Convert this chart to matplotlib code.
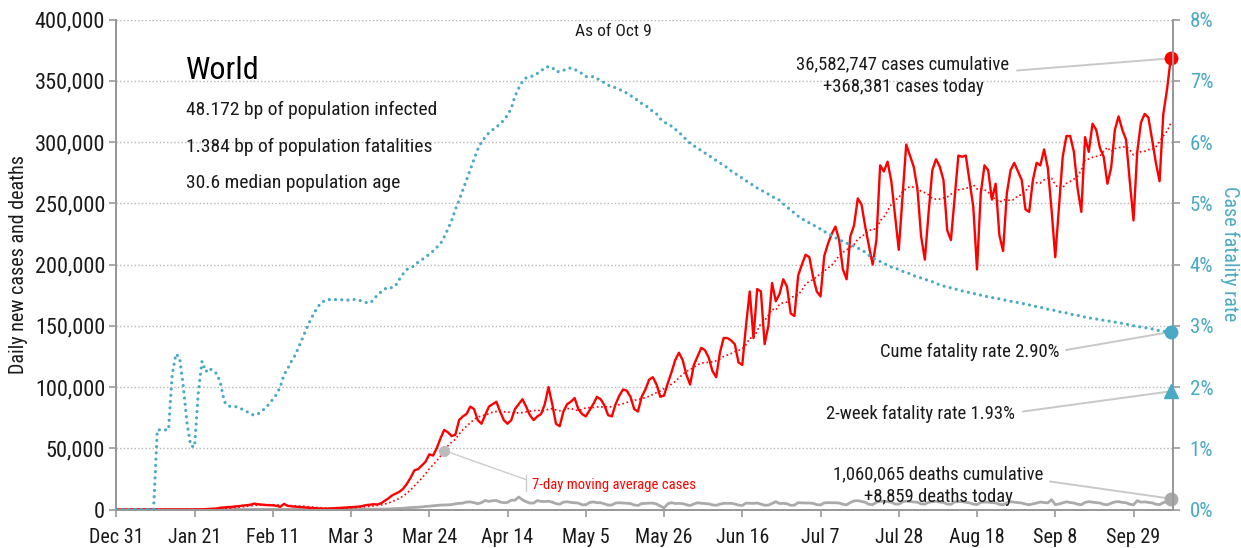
import numpy as np
import pandas as pd
import matplotlib
matplotlib.use("Agg")
import matplotlib.pyplot as plt
import matplotlib.font_manager as fm

# ---------------- data (day 0 = Dec 31, last day = Oct 9) ----------------
cases_k = [
    0, 0, 0, 0, 0, 0, 0,
    0, 0, 0, 0, 0, 0, 0,
    0, 0, 0, 0, 0, 0, 0,
    0, 0.1, 0.1, 0.3, 0.5, 0.7, 0.8,
    1.5, 1.7, 2.0, 2.1, 2.6, 2.8, 3.2,
    3.5, 3.9, 4.8, 4.3, 4.0, 3.7, 3.5,
    3.4, 3.0, 2.2, 4.6, 3.0, 2.6, 2.3,
    2.1, 1.9, 1.6, 1.3, 1.1, 0.9, 0.8,
    0.7, 0.8, 1.0, 1.2, 1.3, 1.5, 1.7,
    1.9, 2.1, 2.4, 2.8, 3.6, 3.9, 4.3,
    4.1, 5.0, 7.0, 9.0, 11.5, 13.0, 14.5,
    17, 21, 26, 32, 33, 36, 39,
    45, 44, 50, 58, 65, 63, 60,
    61, 73, 76, 78, 84, 82, 73,
    70, 77, 84, 86, 88, 80, 73,
    70, 73, 82, 86, 90, 84, 77,
    73, 76, 78, 86, 100, 86, 70,
    68, 80, 86, 88, 91, 82, 78,
    76, 81, 86, 92, 90, 85, 77,
    76, 86, 93, 98, 97, 92, 82,
    80, 92, 98, 106, 108, 102, 92,
    93, 103, 112, 122, 128, 122, 110,
    102, 118, 125, 132, 130, 124, 113,
    108, 128, 140, 140, 138, 135, 120,
    118, 150, 178, 140, 180, 178, 135,
    150, 185, 170, 176, 188, 182, 160,
    158, 191, 200, 208, 206, 190, 178,
    174, 207, 217, 225, 231, 220, 196,
    188, 223, 232, 254, 249, 231, 215,
    200, 220, 281, 276, 284, 268, 240,
    212, 255, 298, 289, 280, 262, 223,
    204, 242, 277, 286, 280, 269, 228,
    220, 255, 289, 288, 289, 268, 247,
    196, 258, 281, 277, 253, 266, 224,
    211, 258, 277, 283, 276, 269, 245,
    243, 269, 283, 281, 294, 279, 245,
    206, 247, 288, 305, 305, 292, 262,
    243, 304, 292, 315, 310, 295, 288,
    266, 279, 310, 321, 310, 302, 268,
    236, 292, 316, 323, 320, 302, 283,
    268, 323, 343, 368.381,
]

deaths_k = [
    0, 0, 0, 0, 0, 0, 0,
    0, 0, 0, 0, 0, 0, 0,
    0, 0, 0, 0, 0, 0, 0,
    0, 0.02, 0.01, 0.01, 0.02, 0.02, 0.03,
    0.03, 0.04, 0.04, 0.05, 0.06, 0.06, 0.07,
    0.07, 0.07, 0.07, 0.09, 0.09, 0.1, 0.1,
    0.1, 0.12, 0.12, 0.25, 0.14, 0.14, 0.1,
    0.12, 0.11, 0.1, 0.1, 0.1, 0.15, 0.08,
    0.05, 0.04, 0.05, 0.06, 0.05, 0.06, 0.07,
    0.1, 0.1, 0.1, 0.1, 0.2, 0.2, 0.3,
    0.3, 0.4, 0.4, 0.5, 0.6, 0.8, 0.9,
    1.0, 1.3, 1.6, 1.7, 1.9, 2.1, 2.5,
    2.7, 3.0, 3.3, 3.6, 3.7, 3.8, 4.0,
    4.6, 5.0, 5.2, 6.1, 6.2, 5.6, 4.7,
    5.6, 7.4, 6.6, 7.2, 7.3, 6.1, 5.5,
    5.8, 7.6, 7.6, 10.2, 7.9, 6.4, 5.2,
    5.3, 7.3, 6.6, 6.5, 6.8, 6.0, 4.8,
    4.3, 6.0, 6.3, 5.8, 5.5, 5.2, 3.9,
    3.8, 5.6, 6.2, 5.6, 5.5, 4.6, 3.6,
    3.7, 5.3, 5.5, 5.3, 5.1, 4.8, 3.7,
    3.3, 4.8, 5.0, 5.2, 5.2, 4.5, 2.8,
    1.3, 4.6, 5.6, 4.9, 5.0, 4.8, 3.9,
    3.2, 4.5, 5.5, 5.1, 4.9, 4.6, 3.8,
    3.4, 4.4, 5.0, 5.0, 5.1, 4.5, 3.6,
    3.3, 5.2, 5.1, 5.0, 5.3, 4.4, 3.5,
    3.6, 4.9, 6.4, 4.9, 5.0, 4.7, 3.4,
    3.6, 5.6, 5.4, 5.3, 5.3, 5.0, 4.0,
    3.7, 5.4, 5.6, 5.5, 5.5, 5.3, 4.3,
    3.8, 5.7, 7.0, 7.2, 6.6, 5.9, 4.2,
    4.0, 5.9, 6.6, 6.8, 6.4, 6.0, 4.5,
    4.3, 6.1, 6.9, 6.6, 6.2, 5.9, 4.6,
    4.4, 5.9, 6.4, 6.6, 6.1, 5.8, 4.4,
    4.2, 6.2, 6.4, 6.5, 5.9, 5.4, 4.4,
    4.0, 5.8, 6.1, 6.0, 5.6, 5.4, 4.2,
    3.9, 5.3, 6.4, 6.0, 5.6, 5.3, 4.4,
    3.9, 4.6, 5.3, 6.1, 5.7, 5.4, 8.0,
    4.0, 4.5, 5.4, 6.3, 5.7, 5.3, 4.3,
    3.9, 5.8, 6.4, 6.0, 5.6, 5.3, 4.2,
    3.9, 5.1, 6.2, 6.4, 5.8, 5.5, 4.3,
    3.8, 7.2, 6.0, 6.2, 5.8, 5.4, 4.3,
    4.0, 5.6, 6.3, 8.859,
]

cfr_pct = [
    0, 0, 0, 0, 0, 0, 0,
    0, 0, 0, 0, 1.3, 1.3, 1.3,
    1.3, 2.2, 2.54, 2.48, 2.0, 1.4, 1.04,
    1.02, 1.9, 2.42, 2.25, 2.31, 2.25, 2.22,
    2.05, 1.76, 1.69, 1.68, 1.68, 1.66, 1.63,
    1.6, 1.56, 1.54, 1.56, 1.6, 1.66, 1.72,
    1.8, 1.88, 2.0, 2.2, 2.3, 2.42, 2.52,
    2.66, 2.8, 2.95, 3.08, 3.2, 3.3, 3.38,
    3.41, 3.43, 3.42, 3.43, 3.42, 3.43, 3.42,
    3.42, 3.43, 3.42, 3.4, 3.38, 3.37, 3.42,
    3.5, 3.55, 3.6, 3.63, 3.62, 3.66, 3.76,
    3.85, 3.92, 3.95, 3.98, 4.04, 4.08, 4.12,
    4.17, 4.22, 4.28, 4.34, 4.45, 4.58, 4.72,
    4.9, 5.05, 5.22, 5.38, 5.55, 5.72, 5.88,
    6.0, 6.08, 6.15, 6.2, 6.25, 6.29, 6.36,
    6.44, 6.55, 6.75, 6.88, 6.99, 7.05, 7.07,
    7.08, 7.12, 7.16, 7.22, 7.23, 7.22, 7.15,
    7.15, 7.17, 7.2, 7.21, 7.19, 7.15, 7.12,
    7.07, 7.06, 7.07, 7.04, 7.0, 6.97, 6.93,
    6.9, 6.89, 6.86, 6.83, 6.8, 6.76, 6.72,
    6.68, 6.63, 6.6, 6.55, 6.5, 6.46, 6.38,
    6.33, 6.29, 6.26, 6.21, 6.16, 6.1, 6.04,
    5.98, 5.94, 5.9, 5.86, 5.82, 5.78, 5.74,
    5.7, 5.66, 5.62, 5.58, 5.53, 5.49, 5.45,
    5.41, 5.37, 5.33, 5.29, 5.25, 5.22, 5.18,
    5.15, 5.11, 5.08, 5.05, 4.99, 4.94, 4.89,
    4.84, 4.79, 4.75, 4.71, 4.68, 4.65, 4.61,
    4.58, 4.54, 4.51, 4.47, 4.44, 4.4, 4.38,
    4.35, 4.32, 4.3, 4.27, 4.24, 4.2, 4.15,
    4.11, 4.08, 4.05, 4.02, 3.99, 3.96, 3.94,
    3.92, 3.89, 3.87, 3.85, 3.82, 3.8, 3.78,
    3.76, 3.74, 3.72, 3.69, 3.67, 3.65, 3.63,
    3.62, 3.6, 3.59, 3.57, 3.56, 3.54, 3.53,
    3.51, 3.5, 3.49, 3.47, 3.46, 3.45, 3.44,
    3.43, 3.41, 3.4, 3.39, 3.38, 3.37, 3.35,
    3.34, 3.33, 3.31, 3.3, 3.29, 3.27, 3.26,
    3.25, 3.23, 3.22, 3.21, 3.19, 3.18, 3.17,
    3.16, 3.14, 3.13, 3.12, 3.11, 3.1, 3.09,
    3.08, 3.07, 3.06, 3.05, 3.04, 3.03, 3.01,
    3.0, 2.99, 2.98, 2.97, 2.96, 2.95, 2.93,
    2.92, 2.91, 2.9, 2.9,
]

two_week_cfr = 1.93
tick_days = [0, 21, 42, 63, 84, 105, 126, 147, 168, 189, 210, 231, 252, 273]
tick_labels = ["Dec 31", "Jan 21", "Feb 11", "Mar 3", "Mar 24", "Apr 14", "May 5",
               "May 26", "Jun 16", "Jul 7", "Jul 28", "Aug 18", "Sep 8", "Sep 29"]
left_ticks = [0, 50000, 100000, 150000, 200000, 250000, 300000, 350000, 400000]
right_ticks = [0, 1, 2, 3, 4, 5, 6, 7, 8]

title = "World"
info_lines = ["48.172 bp of population infected",
              "1.384 bp of population fatalities",
              "30.6 median population age"]
as_of = "As of Oct 9"
cases_note = "36,582,747 cases cumulative\n+368,381 cases today"
cume_note = "Cume fatality rate 2.90%"
week_note = "2-week fatality rate 1.93%"
deaths_note = "1,060,065 deaths cumulative\n+8,859 deaths today"
ma_note = "7-day moving average cases"
ma_marker_day = 88

# ---------------- derived ----------------
cases = np.array(cases_k) * 1000.0
deaths = np.array(deaths_k) * 1000.0
cfr = np.array(cfr_pct)
days = np.arange(len(cases))
ma = pd.Series(cases).rolling(7).mean().to_numpy()

# ---------------- fonts ----------------
available = {f.name for f in fm.fontManager.ttflist}
FONT = None
STRETCH = "normal"
for cand in ["Roboto Condensed", "Liberation Sans Narrow", "Open Sans Condensed",
             "DejaVu Sans Condensed"]:
    if cand in available:
        FONT = cand
        break
if FONT is None:
    FONT = "DejaVu Sans"
    STRETCH = "condensed"
plt.rcParams["font.family"] = [FONT, "DejaVu Sans"]
plt.rcParams["font.stretch"] = STRETCH

RED = "#ff0000"
CYAN = "#4aaac6"
GRAY = "#aaaaaa"
SPINE = "#999999"
TXT = "#1a1a1a"
LEADER = "#c8c8c8"

W, H = 1241, 548
fig = plt.figure(figsize=(W / 100, H / 100), dpi=100)

def fx(px):
    return px / W

def fy(py):
    return 1 - py / H

L, R, T, B = 116.3, 1173.0, 19.6, 509.5
ax = fig.add_axes([fx(L), fy(B), (R - L) / W, (B - T) / H])
ax2 = ax.twinx()

# grid
for v in left_ticks[1:]:
    ax.axhline(v, color="#b5b5b5", lw=1.0, ls=(0, (1, 1.6)), zorder=0)

# cases, MA, deaths
ax.plot(days, deaths, color=GRAY, lw=2.0, zorder=3, solid_joinstyle="round")
ax.plot(days, ma, color=RED, lw=1.2, ls=(0, (1, 1.6)), zorder=4)
ax.plot(days, cases, color=RED, lw=1.7, zorder=5, solid_joinstyle="round")
ax.plot([days[-1]], [cases[-1]], "o", color=RED, ms=9, zorder=6, clip_on=False)
ax.plot([days[-1]], [deaths[-1]], "o", color=GRAY, ms=9, zorder=6, clip_on=False)
ax.plot([ma_marker_day], [ma[ma_marker_day]], "o", color="#bbbbbb", ms=7, zorder=6)

# CFR on right axis
ax2.plot(days, cfr, color=CYAN, lw=2.3, ls=(0, (0.01, 1.95)), dash_capstyle="round", zorder=4)
ax2.plot([days[-1]], [cfr[-1]], "o", color=CYAN, ms=9, clip_on=False, zorder=6)
ax2.plot([days[-1]], [two_week_cfr], "^", color=CYAN, ms=10, clip_on=False, zorder=6)

ax.set_xlim(0, 283.6)
ax.set_ylim(0, 400000)
ax2.set_ylim(0, 8)

ax.set_xticks(tick_days)
ax.set_xticklabels(tick_labels)
ax.set_yticks(left_ticks)
ax.set_yticklabels([f"{v:,}" for v in left_ticks])
ax2.set_yticks(right_ticks)
ax2.set_yticklabels([f"{v}%" for v in right_ticks])

for a in (ax, ax2):
    a.spines["top"].set_visible(False)
    for s in ("left", "right", "bottom"):
        a.spines[s].set_color(SPINE)
        a.spines[s].set_linewidth(1.4)
ax.tick_params(axis="both", colors=SPINE, labelcolor=TXT, length=5, width=1.2)
ax.tick_params(axis="x", pad=8, labelsize=14.5)
ax.tick_params(axis="y", pad=3, labelsize=16)
ax2.tick_params(axis="y", colors=SPINE, labelcolor=CYAN, labelsize=15, length=5, width=1.2, pad=7)
ax.set_facecolor("none")

# axis titles
fig.text(fx(19), fy(264), "Daily new cases and deaths", rotation=90, ha="center", va="center",
         fontsize=14.5, color=TXT)
fig.text(fx(1230), fy(254), "Case fatality rate", rotation=270, ha="center", va="center",
         fontsize=14.5, color=CYAN)

# texts
fig.text(fx(186), fy(79), title, fontsize=23, color="black", ha="left", va="baseline")
for i, line in enumerate(info_lines):
    fig.text(fx(186), fy(115 + 36.5 * i), line, fontsize=14, color=TXT, ha="left", va="baseline")
fig.text(fx(613), fy(36), as_of, fontsize=12.5, color=TXT, ha="center", va="baseline")

NS = 13.4
fig.text(fx(903), fy(91.5), cases_note, fontsize=NS, color=TXT, ha="center", va="baseline",
         multialignment="center", linespacing=1.3)
fig.text(fx(1060), fy(357), cume_note, fontsize=NS, color=TXT, ha="right", va="baseline")
fig.text(fx(1015), fy(419), week_note, fontsize=NS, color=TXT, ha="right", va="baseline")
fig.text(fx(938), fy(502), deaths_note, fontsize=NS, color=TXT, ha="center", va="baseline",
         multialignment="center", linespacing=1.3)
fig.text(fx(532), fy(489), ma_note, fontsize=10.5, color=RED, ha="left", va="baseline")

# leader lines
lp = dict(arrowstyle="-", color=LEADER, lw=1.4, shrinkA=0, shrinkB=0)
ax.annotate("", xy=(days[-1], cases[-1]), xytext=(fx(1017), fy(70.5)),
            textcoords="figure fraction", arrowprops=lp, annotation_clip=False)
ax2.annotate("", xy=(days[-1], cfr[-1]), xytext=(fx(1066), fy(350)),
             textcoords="figure fraction", arrowprops=lp, annotation_clip=False)
ax2.annotate("", xy=(days[-1], two_week_cfr), xytext=(fx(1023), fy(411.5)),
             textcoords="figure fraction", arrowprops=lp, annotation_clip=False)
ax.annotate("", xy=(days[-1], deaths[-1]), xytext=(fx(1050), fy(481.5)),
            textcoords="figure fraction", arrowprops=lp, annotation_clip=False)
ax.annotate("", xy=(ma_marker_day, ma[ma_marker_day]), xytext=(fx(525.7), fy(479.5)),
            textcoords="figure fraction", arrowprops=dict(arrowstyle="-", color="#cccccc", lw=1.0,
                                                            shrinkA=0, shrinkB=0))
fig.add_artist(plt.Line2D([fx(525.7), fx(525.7)], [fy(475), fy(491)], color="#cccccc", lw=1.0))

fig.savefig("out.png", dpi=100)
